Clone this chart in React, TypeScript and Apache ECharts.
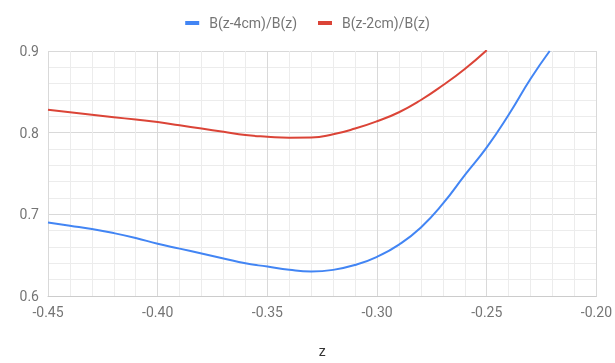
import React, { useEffect, useRef } from "react";
import * as echarts from "echarts";

const seriesNames = ["B(z-4cm)/B(z)", "B(z-2cm)/B(z)"];
const blueZ = [-0.45, -0.44, -0.43, -0.42, -0.41, -0.40, -0.39, -0.38, -0.37, -0.36, -0.35, -0.34, -0.33, -0.32, -0.31, -0.30, -0.29, -0.28, -0.27, -0.26, -0.25, -0.24, -0.23, -0.2213];
const blueVals = [0.690, 0.686, 0.682, 0.677, 0.671, 0.664, 0.658, 0.652, 0.646, 0.640, 0.636, 0.632, 0.630, 0.632, 0.638, 0.648, 0.663, 0.684, 0.713, 0.748, 0.782, 0.822, 0.866, 0.900];
const redZ = [-0.45, -0.44, -0.43, -0.42, -0.41, -0.40, -0.39, -0.38, -0.37, -0.36, -0.35, -0.34, -0.33, -0.32, -0.31, -0.30, -0.29, -0.28, -0.27, -0.26, -0.25];
const redVals = [0.828, 0.825, 0.822, 0.819, 0.816, 0.813, 0.809, 0.805, 0.801, 0.797, 0.795, 0.7938, 0.794, 0.798, 0.805, 0.814, 0.825, 0.840, 0.858, 0.878, 0.901];
const colors = ["#4285F4", "#DB4437"];

export default function App() {
  const ref = useRef<HTMLDivElement>(null);
  useEffect(() => {
    if (!ref.current) return;
    const chart = echarts.init(ref.current, null, { renderer: "svg" });
    const labelStyle = { color: "#757575", fontSize: 14, fontFamily: "Roboto" };
    chart.setOption({
      animation: false,
      textStyle: { fontFamily: "Roboto" },
      color: colors,
      legend: {
        top: 11,
        left: "center",
        itemWidth: 14,
        itemHeight: 4,
        itemGap: 21,
        icon: "rect",
        textStyle: { color: "#757575", fontSize: 14, fontFamily: "Roboto", padding: [0, 0, 0, 5] },
        data: seriesNames,
      },
      grid: { left: 48, right: 17, top: 51, bottom: 64, containLabel: false },
      xAxis: {
        type: "value",
        min: -0.45,
        max: -0.2,
        interval: 0.05,
        name: "z",
        nameLocation: "middle",
        nameGap: 48,
        nameTextStyle: { color: "#333", fontSize: 14, fontFamily: "Roboto" },
        axisLine: { show: true, lineStyle: { color: "#cccccc" } },
        axisTick: { show: false },
        axisLabel: { ...labelStyle, margin: 9, formatter: (v: number) => v.toFixed(2) },
        splitLine: { show: true, lineStyle: { color: "#d9d9d9", width: 1 } },
        minorTick: { show: false, splitNumber: 5 },
        minorSplitLine: { show: true, lineStyle: { color: "#ececec", width: 1 } },
      },
      yAxis: {
        type: "value",
        min: 0.6,
        max: 0.9,
        interval: 0.1,
        axisLine: { show: false },
        axisTick: { show: false },
        axisLabel: { ...labelStyle, margin: 9, formatter: (v: number) => v.toFixed(1) },
        splitLine: { show: true, lineStyle: { color: "#d9d9d9", width: 1 } },
        minorTick: { show: false, splitNumber: 5 },
        minorSplitLine: { show: true, lineStyle: { color: "#ececec", width: 1 } },
      },
      series: [
        {
          name: seriesNames[0],
          type: "line",
          smooth: true,
          showSymbol: false,
          lineStyle: { width: 2, color: colors[0] },
          data: blueZ.map((z, i) => [z, blueVals[i]]),
        },
        {
          name: seriesNames[1],
          type: "line",
          smooth: true,
          showSymbol: false,
          lineStyle: { width: 2, color: colors[1] },
          data: redZ.map((z, i) => [z, redVals[i]]),
        },
      ],
    });
    return () => chart.dispose();
  }, []);
  return (
    <div
      ref={ref}
      style={{ position: "fixed", left: 0, top: 0, width: 615, height: 363 }}
    />
  );
}
